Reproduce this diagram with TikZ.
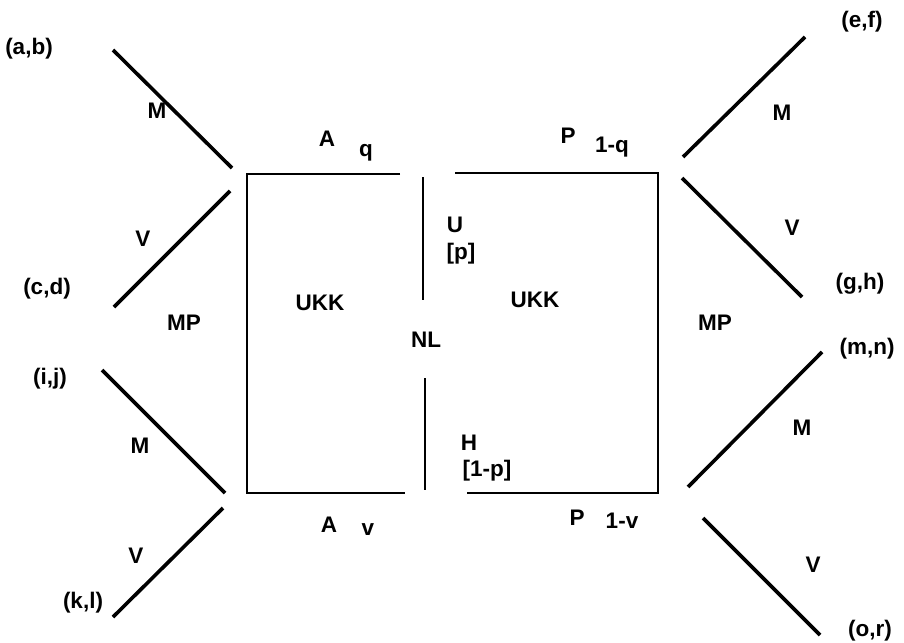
\documentclass[tikz,border=0pt]{standalone}
\usepackage{fontspec}
\setmainfont{Liberation Sans}

\begin{document}
\begin{tikzpicture}[
    x=1pt, y=-1pt,
    branch/.style={line width=3.6pt},
    side/.style={line width=2.6pt},
    lbl/.style={anchor=base, inner sep=0pt, font=\bfseries\fontsize{22.5}{26}\selectfont}
]
    \useasboundingbox (0,0) rectangle (904,642);

    % Branch end points
    \coordinate (luM0) at (232,168); \coordinate (luM1) at (113,50);
    \coordinate (luV0) at (230,191); \coordinate (luV1) at (114,307);
    \coordinate (llM0) at (225,493); \coordinate (llM1) at (102,370);
    \coordinate (llV0) at (223,508); \coordinate (llV1) at (113,617);
    \coordinate (ruM0) at (683,157); \coordinate (ruM1) at (805,37);
    \coordinate (ruV0) at (682,178); \coordinate (ruV1) at (802,297);
    \coordinate (rlM0) at (688,487); \coordinate (rlM1) at (822,352);
    \coordinate (rlV0) at (703,518); \coordinate (rlV1) at (820,635);

    % Box corners
    \coordinate (aTop) at (400,174); \coordinate (aTL) at (247,174);
    \coordinate (aBL) at (247,493); \coordinate (aBot) at (405,493);
    \coordinate (pTop) at (455,173); \coordinate (pTR) at (658,173);
    \coordinate (pBR) at (658,493); \coordinate (pBot) at (467,493);
    \coordinate (nlU0) at (423,177); \coordinate (nlU1) at (423,300);
    \coordinate (nlH0) at (425,378); \coordinate (nlH1) at (425,490);

    % Branches
    \draw[branch] (luM0) -- (luM1);
    \draw[branch] (luV0) -- (luV1);
    \draw[branch] (llM0) -- (llM1);
    \draw[branch] (llV0) -- (llV1);
    \draw[branch] (ruM0) -- (ruM1);
    \draw[branch] (ruV0) -- (ruV1);
    \draw[branch] (rlM0) -- (rlM1);
    \draw[branch] (rlV0) -- (rlV1);

    % Boxes
    \draw[side] (aTop) -- (aTL) -- (aBL) -- (aBot);
    \draw[side] (pTop) -- (pTR) -- (pBR) -- (pBot);
    \draw[side] (nlU0) -- (nlU1);
    \draw[side] (nlH0) -- (nlH1);

    % Payoffs
    \node[lbl] (ab) at (29,55) {(a,b)};
    \node[lbl] (cd) at (47,294) {(c,d)};
    \node[lbl] (ij) at (50,384) {(i,j)};
    \node[lbl] (kl) at (83,608) {(k,l)};
    \node[lbl] (ef) at (862,28) {(e,f)};
    \node[lbl] (gh) at (860,289) {(g,h)};
    \node[lbl] (mn) at (867,354) {(m,n)};
    \node[lbl] (or) at (870,636) {(o,r)};

    % Branch labels
    \node[lbl] (mLU) at (157,118) {M};
    \node[lbl] (vLU) at (143,246) {V};
    \node[lbl] (mLL) at (140,453) {M};
    \node[lbl] (vLL) at (136,563) {V};
    \node[lbl] (mRU) at (782,120) {M};
    \node[lbl] (vRU) at (792,235) {V};
    \node[lbl] (mRL) at (802,435) {M};
    \node[lbl] (vRL) at (813,572) {V};
    \node[lbl] (mpL) at (184,330) {MP};
    \node[lbl] (mpR) at (715,330) {MP};

    % Box labels
    \node[lbl] (aq) at (327,146) {A};
    \node[lbl] (q) at (366,156) {q};
    \node[lbl] (av) at (329,532) {A};
    \node[lbl] (v) at (368,535) {v};
    \node[lbl] (pq) at (568,143) {P};
    \node[lbl] (oneq) at (612,152) {1-q};
    \node[lbl] (pv) at (577,525) {P};
    \node[lbl] (onev) at (622,528) {1-v};
    \node[lbl] (ukkL) at (320,310) {UKK};
    \node[lbl] (ukkR) at (535,307) {UKK};
    \node[lbl] (nl) at (426,347) {NL};
    \node[lbl] (u) at (455,232) {U};
    \node[lbl] (pp) at (461,259) {[p]};
    \node[lbl] (h) at (469,450) {H};
    \node[lbl] (onep) at (487,476) {[1-p]};
\end{tikzpicture}
\end{document}
